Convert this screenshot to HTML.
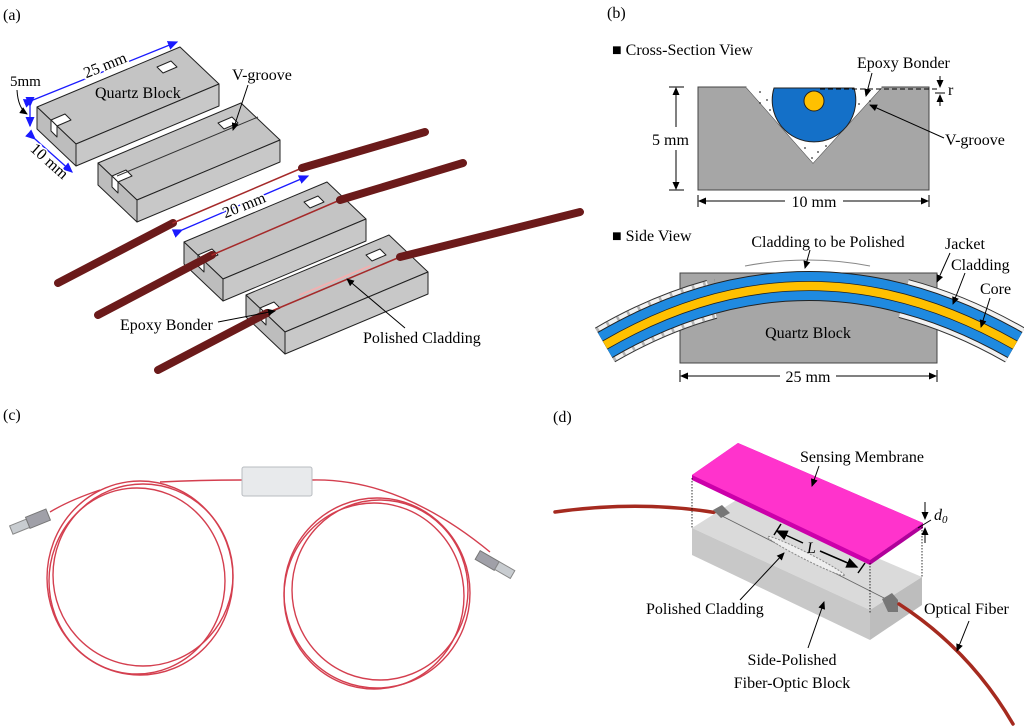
<!DOCTYPE html>
<html><head><meta charset="utf-8"><style>
html,body{margin:0;padding:0;background:#fff;}
svg{display:block;}
svg text{font-family:"Liberation Serif","DejaVu Serif",serif;}
</style></head><body>
<svg width="1024" height="728" viewBox="0 0 1024 728" xmlns="http://www.w3.org/2000/svg" font-family="Liberation Serif, serif">
<defs>
<marker id="ab" markerWidth="8" markerHeight="8" refX="7" refY="4" orient="auto"><path d="M0,0.5 L8,4 L0,7.5 z" fill="#1a1aff"/></marker>
<marker id="ak" markerWidth="8" markerHeight="8" refX="7" refY="4" orient="auto"><path d="M0,0.5 L8,4 L0,7.5 z" fill="#000"/></marker>
<g id="blk" stroke="#222" stroke-width="1" stroke-linejoin="round">
<path d="M0,0 L143,-60 L182,-23 L39,37 z" fill="#c4c4c4"/>
<path d="M0,0 L39,37 L39,59 L0,22 z" fill="#bdbdbd"/>
<path d="M39,37 L182,-23 L182,-1 L39,59 z" fill="#c8c8c8"/>
<path d="M14,13 L28,7 L34,13 L20,19 z" fill="#fff"/>
<path d="M14,13 L20,19 L20,30 L14,24 z" fill="#fff"/>
<path d="M120,-40 L134,-46 L140,-40 L126,-34 z" fill="#fff"/>
</g>
</defs>
<!-- (a) -->
<text x="3" y="20" font-size="16">(a)</text>
<use href="#blk" x="37" y="107"/>
<use href="#blk" x="98" y="163"/>
<line x1="117" y1="176" x2="258" y2="117" stroke="#333" stroke-width="1"/>
<use href="#blk" x="184" y="242"/>
<use href="#blk" x="246" y="295"/>
<g stroke-linecap="round" fill="none">
<line x1="58" y1="283" x2="173" y2="223" stroke="#6b1a1a" stroke-width="8"/>
<line x1="173" y1="223" x2="302" y2="168" stroke="#a52a2a" stroke-width="1.5"/>
<line x1="302" y1="168" x2="425" y2="132" stroke="#6b1a1a" stroke-width="8"/>
<line x1="98" y1="315" x2="212" y2="255" stroke="#6b1a1a" stroke-width="8"/>
<line x1="212" y1="255" x2="340" y2="200" stroke="#a52a2a" stroke-width="1.5"/>
<line x1="340" y1="200" x2="463" y2="163" stroke="#6b1a1a" stroke-width="8"/>
<line x1="158" y1="370" x2="267" y2="313" stroke="#6b1a1a" stroke-width="8"/>
<line x1="267" y1="313" x2="400" y2="257" stroke="#a52a2a" stroke-width="1.5"/>
<line x1="300" y1="295" x2="370" y2="266" stroke="#f3b0b0" stroke-width="2"/>
<line x1="400" y1="257" x2="580" y2="212" stroke="#6b1a1a" stroke-width="8"/>
</g>
<g stroke="#1a1aff" stroke-width="1.3" fill="none">
<line x1="33" y1="100" x2="177" y2="42" marker-start="url(#ab)" marker-end="url(#ab)"/>
<line x1="30" y1="106" x2="30" y2="126" marker-start="url(#ab)" marker-end="url(#ab)"/>
<line x1="35" y1="139" x2="72" y2="172" marker-start="url(#ab)" marker-end="url(#ab)"/>
<line x1="182" y1="230" x2="308" y2="176" marker-start="url(#ab)" marker-end="url(#ab)"/>
</g>
<text x="107" y="70" font-size="16" text-anchor="middle" transform="rotate(-22 107 70)" fill="#000" stroke="#fff" stroke-width="3" paint-order="stroke">25 mm</text>
<text x="95" y="98" font-size="16">Quartz Block</text>
<text x="10" y="86" font-size="15">5mm</text>
<path d="M17,90 Q18,108 27,114" stroke="#000" fill="none" marker-end="url(#ak)"/>
<text x="46" y="165" font-size="16" text-anchor="middle" transform="rotate(42 46 165)" stroke="#fff" stroke-width="3" paint-order="stroke">10 mm</text>
<text x="232" y="80" font-size="16">V-groove</text>
<line x1="248" y1="85" x2="233" y2="130" stroke="#000" marker-end="url(#ak)"/>
<text x="246" y="210" font-size="16" text-anchor="middle" transform="rotate(-22 246 210)" stroke="#fff" stroke-width="3" paint-order="stroke">20 mm</text>
<text x="120" y="330" font-size="16">Epoxy Bonder</text>
<line x1="218" y1="322" x2="275" y2="311" stroke="#000" marker-end="url(#ak)"/>
<text x="363" y="343" font-size="16">Polished Cladding</text>
<line x1="405" y1="328" x2="347" y2="279" stroke="#000" marker-end="url(#ak)"/>

<!-- (b) -->
<text x="607" y="18" font-size="16">(b)</text>
<text x="612" y="55" font-size="16">■ Cross-Section View</text>
<path d="M698,87 L746,87 L813,163 L882,87 L929,87 L929,190 L698,190 z" fill="#a6a6a6" stroke="#444"/>
<path d="M746,87 L882,87 L813,163 z" fill="#fff"/>
<g fill="#333"><circle cx="760" cy="92" r="0.9"/><circle cx="767" cy="100" r="0.9"/><circle cx="770" cy="110" r="0.9"/><circle cx="760" cy="103" r="0.9"/><circle cx="866" cy="94" r="0.9"/><circle cx="870" cy="101" r="0.9"/><circle cx="859" cy="104" r="0.9"/><circle cx="805" cy="148" r="0.9"/><circle cx="818" cy="152" r="0.9"/><circle cx="812" cy="158" r="0.9"/><circle cx="826" cy="146" r="0.9"/></g>
<path d="M774,88 L854,88 A41.8,41.8 0 1 1 774,88 z" fill="#1470c8" stroke="#222"/>
<circle cx="814" cy="101" r="10" fill="#ffc000" stroke="#222"/>
<line x1="820" y1="89" x2="940" y2="89" stroke="#000" stroke-dasharray="5,3"/>
<line x1="935" y1="93" x2="945" y2="93" stroke="#000"/>
<line x1="940" y1="76" x2="940" y2="87" stroke="#000" marker-end="url(#ak)"/>
<line x1="940" y1="106" x2="940" y2="95" stroke="#000" marker-end="url(#ak)"/>
<text x="948" y="95" font-size="16">r</text>
<text x="857" y="68" font-size="16">Epoxy Bonder</text>
<line x1="872" y1="73" x2="866" y2="96" stroke="#000" marker-end="url(#ak)"/>
<text x="945" y="145" font-size="16">V-groove</text>
<line x1="944" y1="138" x2="870" y2="105" stroke="#000" marker-end="url(#ak)"/>
<line x1="669" y1="87" x2="684" y2="87" stroke="#000"/><line x1="669" y1="190" x2="684" y2="190" stroke="#000"/>
<line x1="676" y1="127" x2="676" y2="88" stroke="#000" marker-end="url(#ak)"/>
<line x1="676" y1="150" x2="676" y2="189" stroke="#000" marker-end="url(#ak)"/>
<text x="652" y="145" font-size="16" fill="#000">5 mm</text>
<line x1="698" y1="195" x2="698" y2="207" stroke="#000"/><line x1="929" y1="195" x2="929" y2="207" stroke="#000"/>
<line x1="785" y1="201" x2="699" y2="201" stroke="#000" marker-end="url(#ak)"/>
<line x1="843" y1="201" x2="928" y2="201" stroke="#000" marker-end="url(#ak)"/>
<text x="814" y="207" font-size="16" text-anchor="middle">10 mm</text>

<text x="612" y="241" font-size="16">■ Side View</text>
<rect x="680" y="273" width="257" height="90" fill="#a6a6a6" stroke="#444"/>
<text x="808" y="338" font-size="16" text-anchor="middle">Quartz Block</text>
<path d="M605,345 Q808,227 1015,345" pathLength="100" fill="none" stroke="#333" stroke-width="40" stroke-dasharray="27,45,28,10"/>
<path d="M605,345 Q808,227 1015,345" pathLength="100" fill="none" stroke="#f2f2f2" stroke-width="38" stroke-dasharray="27,45,28,10"/>
<path d="M605,345 Q808,227 1015,345" pathLength="100" fill="none" stroke="#888" stroke-width="38" stroke-dasharray="0.6,2" stroke-dashoffset="0" opacity="0.6" clip-path="url(#cl)"/>
<clipPath id="cl"><rect x="590" y="250" width="125" height="130"/></clipPath>
<path d="M745,266 Q808,254 870,266" fill="none" stroke="#888" stroke-width="1"/>
<path d="M605,345 Q808,227 1015,345" fill="none" stroke="#222" stroke-width="30"/>
<path d="M605,345 Q808,227 1015,345" fill="none" stroke="#1f8ae0" stroke-width="28"/>
<path d="M605,345 Q808,227 1015,345" fill="none" stroke="#222" stroke-width="10"/>
<path d="M605,345 Q808,227 1015,345" fill="none" stroke="#ffc000" stroke-width="8.5"/>
<text x="828" y="247" font-size="16" text-anchor="middle">Cladding to be Polished</text>
<line x1="810" y1="250" x2="805" y2="268" stroke="#000" marker-end="url(#ak)"/>
<text x="945" y="249" font-size="16">Jacket</text>
<line x1="950" y1="253" x2="937" y2="282" stroke="#000" marker-end="url(#ak)"/>
<text x="951" y="270" font-size="16">Cladding</text>
<line x1="965" y1="273" x2="953" y2="304" stroke="#000" marker-end="url(#ak)"/>
<text x="980" y="294" font-size="16">Core</text>
<line x1="990" y1="298" x2="981" y2="327" stroke="#000" marker-end="url(#ak)"/>
<line x1="680" y1="370" x2="680" y2="382" stroke="#000"/><line x1="937" y1="370" x2="937" y2="382" stroke="#000"/>
<line x1="780" y1="376" x2="681" y2="376" stroke="#000" marker-end="url(#ak)"/>
<line x1="836" y1="376" x2="936" y2="376" stroke="#000" marker-end="url(#ak)"/>
<text x="808" y="382" font-size="16" text-anchor="middle">25 mm</text>

<!-- (c) -->
<text x="3" y="420" font-size="16">(c)</text>
<g fill="none" stroke="#d43f4f" stroke-width="1.4">
<ellipse cx="140" cy="578" rx="93" ry="97"/>
<ellipse cx="137" cy="581" rx="88" ry="93"/>
<ellipse cx="143" cy="575" rx="90" ry="91"/>
<ellipse cx="377" cy="593" rx="93" ry="95"/>
<ellipse cx="380" cy="590" rx="88" ry="90"/>
<ellipse cx="374" cy="596" rx="90" ry="93"/>
<path d="M160,482 Q200,480 242,480"/>
<path d="M312,480 Q400,478 490,552"/>
<path d="M50,512 Q70,500 100,490"/>
</g>
<rect x="242" y="467" width="70" height="29" rx="2" fill="#e8eaec" stroke="#b8bcc0"/>
<g transform="rotate(-22 30 523)"><rect x="10" y="518" width="18" height="9" fill="#c8ccd0" stroke="#888"/><rect x="28" y="516" width="22" height="12" fill="#a0a0a8" stroke="#777"/></g>
<g transform="rotate(30 495 565)"><rect x="475" y="560" width="22" height="10" fill="#a0a0a8" stroke="#777"/><rect x="497" y="560" width="18" height="9" fill="#c8ccd0" stroke="#888"/></g>

<!-- (d) -->
<text x="553" y="422" font-size="16">(d)</text>
<path d="M555,512 Q640,500 718,513" fill="none" stroke="#a52a1f" stroke-width="3.5" stroke-linecap="round"/>
<path d="M692,528 L738,499 L922,577 L870,610 z" fill="#dadada"/>
<path d="M692,528 L870,610 L870,640 L692,555 z" fill="#c8c8c8"/>
<path d="M870,610 L922,577 L922,605 L870,640 z" fill="#bdbdbd"/>
<line x1="720" y1="515" x2="888" y2="600" stroke="#666" stroke-width="0.8"/>
<ellipse cx="806" cy="556" rx="43" ry="3.5" transform="rotate(26.8 806 556)" fill="#eee" stroke="#888" stroke-dasharray="2,1.5"/>
<path d="M713,510 L722,505 L730,513 L721,518 z" fill="#777"/>
<path d="M882,599 L892,593 L898,600 L898,612 L888,612 z" fill="#777"/>
<path d="M899,604 Q970,650 1013,724" fill="none" stroke="#a52a1f" stroke-width="3.5" stroke-linecap="round"/>
<path d="M692,475 L738,443 L923,523 L870,560 L870,565 L692,480 z" fill="#cc00aa"/>
<path d="M870,560 L923,523 L923,528 L870,565 z" fill="#b0009a"/>
<path d="M692,475 L738,443 L923,523 L870,560 z" fill="#ff33cc"/>
<g stroke="#000" stroke-dasharray="1.5,1.5" stroke-width="0.8">
<line x1="692" y1="478" x2="692" y2="528"/><line x1="870" y1="563" x2="870" y2="613"/><line x1="922" y1="527" x2="922" y2="577"/>
</g>
<line x1="803" y1="543" x2="777" y2="531" stroke="#000" stroke-width="1.5" marker-end="url(#ak)"/>
<line x1="820" y1="551" x2="857" y2="567" stroke="#000" stroke-width="1.5" marker-end="url(#ak)"/>
<line x1="774" y1="535" x2="781" y2="524" stroke="#000" stroke-width="1.5"/>
<line x1="858" y1="573" x2="865" y2="563" stroke="#000" stroke-width="1.5"/>
<text x="807" y="553" font-size="16" font-style="italic">L</text>
<text x="862" y="462" font-size="16" text-anchor="middle">Sensing Membrane</text>
<line x1="819" y1="466" x2="812" y2="486" stroke="#000" marker-end="url(#ak)"/>
<line x1="925" y1="502" x2="925" y2="519" stroke="#000" marker-end="url(#ak)"/>
<line x1="925" y1="543" x2="925" y2="528" stroke="#000" marker-end="url(#ak)"/>
<line x1="918" y1="528" x2="931" y2="520" stroke="#000"/>
<text x="934" y="520" font-size="16" font-style="italic">d<tspan font-size="11" dy="3">0</tspan></text>
<text x="646" y="614" font-size="16">Polished Cladding</text>
<line x1="740" y1="600" x2="784" y2="553" stroke="#000" marker-end="url(#ak)"/>
<text x="792" y="665" font-size="16" text-anchor="middle">Side-Polished</text>
<text x="792" y="688" font-size="16" text-anchor="middle">Fiber-Optic Block</text>
<line x1="808" y1="648" x2="824" y2="602" stroke="#000" marker-end="url(#ak)"/>
<text x="924" y="614" font-size="16">Optical Fiber</text>
<line x1="969" y1="621" x2="957" y2="651" stroke="#000" marker-end="url(#ak)"/>
</svg>
</body></html>
